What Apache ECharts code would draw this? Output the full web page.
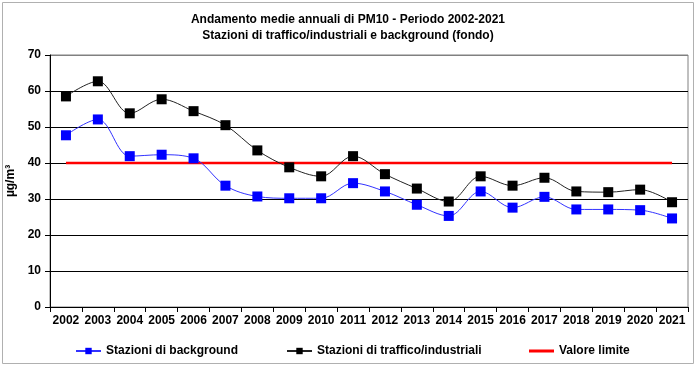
<!DOCTYPE html>
<html><head><meta charset="utf-8">
<script src="https://cdn.jsdelivr.net/npm/echarts@6/dist/echarts.min.js"></script>
<style>html,body{margin:0;padding:0;background:#fff}#c{width:696px;height:369px}</style>
</head><body><div id="c"></div>
<script>
const years = ['2002','2003','2004','2005','2006','2007','2008','2009','2010','2011','2012','2013','2014','2015','2016','2017','2018','2019','2020','2021'];
const background = [47.7,52.1,41.9,42.3,41.3,33.7,30.7,30.2,30.2,34.4,32.1,28.4,25.3,32.1,27.6,30.6,27.1,27.1,26.9,24.6];
const traffico = [58.5,62.7,53.8,57.7,54.4,50.5,43.5,38.8,36.3,41.9,36.9,32.9,29.3,36.3,33.7,35.9,32.1,31.9,32.6,29.1];
const limite = [40,40,40,40,40,40,40,40,40,40,40,40,40,40,40,40,40,40,40,40];
const yTicks = [0,10,20,30,40,50,60,70];

const font = '"Liberation Sans", Arial, sans-serif';
const chart = echarts.init(document.getElementById('c'), null, {renderer:'canvas'});
const legendText = {fontFamily: font, fontWeight:'bold', fontSize:12, color:'#000'};
const lg = (name, left) => ({data:[name], left:left, top:345, itemWidth:25, itemHeight:8, textStyle:legendText, padding:0});
const lgRed = {data:[{name:'Valore limite', icon:'rect'}], left:529, top:345, itemWidth:25, itemHeight:3, textStyle:legendText, padding:0};
chart.setOption({
  animation:false,
  backgroundColor:'#fff',
  graphic:[{type:'rect', shape:{x:2.5,y:2.5,width:691,height:361}, style:{fill:'none', stroke:'#b0b0b0', lineWidth:1}, silent:true}],
  title:{
    text:'Andamento medie annuali di PM10 - Periodo 2002-2021\nStazioni di traffico/industriali e background (fondo)',
    left:'center', top:7,
    textStyle:{fontFamily:font, fontWeight:'bold', fontSize:12, lineHeight:16, color:'#000'}
  },
  legend:[
    lg('Stazioni di background', 75),
    lg('Stazioni di traffico/industriali', 286),
    lgRed
  ],
  grid:{left:50, right:8, top:55, bottom:62, show:true, borderColor:'#808080', borderWidth:1, containLabel:false, outerBoundsMode:'none'},
  xAxis:{
    type:'category', data:years, boundaryGap:true,
    axisLine:{lineStyle:{color:'#000', width:1}},
    axisTick:{show:true, length:5, lineStyle:{color:'#000'}},
    axisLabel:{fontFamily:font, fontWeight:'bold', fontSize:12, color:'#000', margin:8, interval:0}
  },
  yAxis:{
    type:'value', min:yTicks[0], max:yTicks[yTicks.length-1], interval:10,
    name:'µg/m³', nameLocation:'middle', nameGap:33,
    nameTextStyle:{fontFamily:font, fontWeight:'bold', fontSize:12, color:'#000'},
    axisLine:{show:true, lineStyle:{color:'#000'}},
    axisTick:{show:true, length:5, lineStyle:{color:'#000'}},
    axisLabel:{fontFamily:font, fontWeight:'bold', fontSize:12, color:'#000', margin:9},
    splitLine:{show:true, lineStyle:{color:['#000','#000','#000','#000','#000','#000','#000','#808080'], width:1}}
  },
  series:[
    {name:'Stazioni di background', type:'line', data:background, smooth:0.35,
     symbol:'rect', symbolSize:10, itemStyle:{color:'#0000ff'}, lineStyle:{color:'#3333ff', width:1}},
    {name:'Stazioni di traffico/industriali', type:'line', data:traffico, smooth:0.35,
     symbol:'rect', symbolSize:10, itemStyle:{color:'#000'}, lineStyle:{color:'#222', width:1}},
    {name:'Valore limite', type:'line', data:limite, symbol:'none', z:1,
     itemStyle:{color:'#ff0000'}, lineStyle:{color:'#ff0000', width:2.5}}
  ]
});
</script></body></html>
